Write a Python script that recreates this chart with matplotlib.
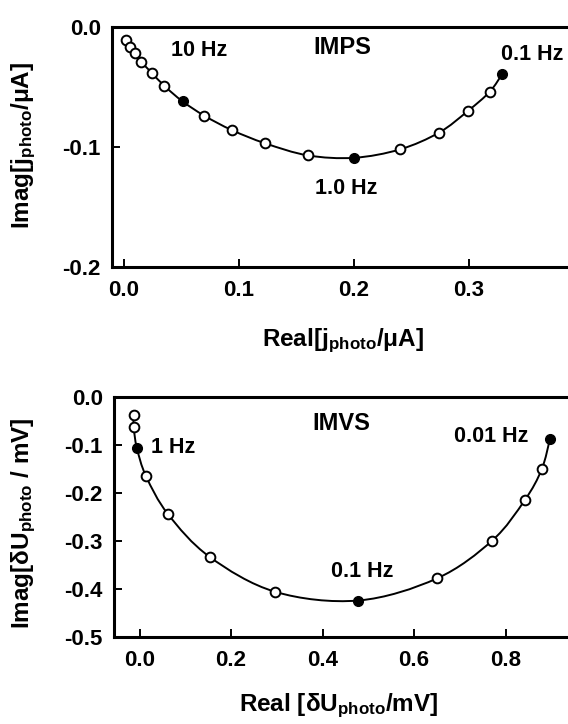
import matplotlib
matplotlib.use("Agg")
import matplotlib.pyplot as plt
from matplotlib.path import Path
from matplotlib.patches import PathPatch

plt.rcParams["font.family"] = ["Liberation Sans", "DejaVu Sans"]
plt.rcParams["font.weight"] = "bold"
plt.rcParams["mathtext.fontset"] = "custom"
plt.rcParams["mathtext.rm"] = "Liberation Sans:bold"
plt.rcParams["mathtext.it"] = "Liberation Sans:italic:bold"
plt.rcParams["mathtext.bf"] = "Liberation Sans:bold"

# ─── IMPS data ──────────────────────────────────────────────────────
imps_real = [0.0016, 0.0054, 0.0095, 0.015, 0.024, 0.035, 0.051, 0.070,
             0.094, 0.123, 0.160, 0.200, 0.240, 0.274, 0.299, 0.318, 0.329]
imps_imag = [-0.0106, -0.0167, -0.022, -0.029, -0.038, -0.049, -0.062, -0.074,
             -0.086, -0.097, -0.107, -0.109, -0.102, -0.088, -0.070, -0.054, -0.039]
imps_filled = [6, 11, 16]

# ─── IMVS data ──────────────────────────────────────────────────────
imvs_real = [-0.013, -0.013, -0.006, 0.014, 0.062, 0.153, 0.297, 0.478,
             0.650, 0.771, 0.842, 0.879, 0.897]
imvs_imag = [-0.037, -0.0625, -0.106, -0.165, -0.244, -0.333, -0.406, -0.424,
             -0.378, -0.299, -0.215, -0.151, -0.088]
imvs_filled = [2, 7, 12]

W, H = 568, 724
fig = plt.figure(figsize=(W / 100, H / 100), dpi=100)
fig.patch.set_facecolor("white")

TICK_FS = 16
HZ_FS = 15.5
TITLE_FS = 17
LABEL_FS = 17.5


def axes_px(left, top, right, bottom):
    return fig.add_axes([left / W, 1 - bottom / H, (right - left) / W, (bottom - top) / H])


def style(ax):
    for s in ax.spines.values():
        s.set_linewidth(2.2)
    ax.tick_params(direction="in", length=6, width=1.4, labelsize=TICK_FS,
                   top=False, right=False)
    ax.tick_params(axis="x", pad=9)
    ax.tick_params(axis="y", pad=8)


def smooth_path(xs, ys):
    # Catmull-Rom through the measured points, drawn as cubic Bezier pieces
    pts = list(zip(xs, ys))
    n = len(pts)
    verts = [pts[0]]
    codes = [Path.MOVETO]
    for i in range(n - 1):
        p0 = pts[max(i - 1, 0)]
        p1 = pts[i]
        p2 = pts[i + 1]
        p3 = pts[min(i + 2, n - 1)]
        c1 = (p1[0] + (p2[0] - p0[0]) / 6, p1[1] + (p2[1] - p0[1]) / 6)
        c2 = (p2[0] - (p3[0] - p1[0]) / 6, p2[1] - (p3[1] - p1[1]) / 6)
        verts += [c1, c2, p2]
        codes += [Path.CURVE4] * 3
    return Path(verts, codes)


def draw(ax, xs, ys, filled):
    ax.add_patch(PathPatch(smooth_path(xs, ys), fc="none", ec="black",
                           lw=1.4, zorder=2))
    opn = [i for i in range(len(xs)) if i not in filled]
    ax.plot([xs[i] for i in opn], [ys[i] for i in opn], "o", ms=7,
            mfc="white", mec="black", mew=1.4, ls="none", zorder=3)
    ax.plot([xs[i] for i in filled], [ys[i] for i in filled], "o", ms=7,
            mfc="black", mec="black", ls="none", zorder=3)


# ─── top: IMPS ──────────────────────────────────────────────────────
ax1 = axes_px(112, 27, 584, 267)
style(ax1)
draw(ax1, imps_real, imps_imag, imps_filled)
ax1.set_xlim(-0.0104, 0.4)
ax1.set_ylim(-0.2, 0.0)
ax1.set_xticks([0.0, 0.1, 0.2, 0.3])
ax1.set_yticks([0.0, -0.1, -0.2])
ax1.set_xticklabels(["0.0", "0.1", "0.2", "0.3"])
ax1.set_yticklabels(["0.0", "-0.1", "-0.2"])
ax1.text(0.065, -0.020, "10 Hz", ha="center", va="center", fontsize=HZ_FS)
ax1.text(0.1896, -0.0167, "IMPS", ha="center", va="center", fontsize=TITLE_FS)
ax1.text(0.355, -0.0233, "0.1 Hz", ha="center", va="center", fontsize=HZ_FS)
ax1.text(0.193, -0.135, "1.0 Hz", ha="center", va="center", fontsize=HZ_FS)
fig.text(343 / W, 1 - 341 / H, r"Real[j$_{\mathrm{photo}}$/μA]",
         ha="center", va="center", fontsize=LABEL_FS)
fig.text(24 / W, 1 - 145 / H, r"Imag[j$_{\mathrm{photo}}$/μA]",
         ha="center", va="center", fontsize=LABEL_FS, rotation=90)

# ─── bottom: IMVS ───────────────────────────────────────────────────
ax2 = axes_px(114, 397, 597, 637)
style(ax2)
draw(ax2, imvs_real, imvs_imag, imvs_filled)
ax2.set_xlim(-0.056, 1.0)
ax2.set_ylim(-0.5, 0.0)
ax2.set_xticks([0.0, 0.2, 0.4, 0.6, 0.8])
ax2.set_yticks([0.0, -0.1, -0.2, -0.3, -0.4, -0.5])
ax2.set_xticklabels(["0.0", "0.2", "0.4", "0.6", "0.8"])
ax2.set_yticklabels(["0.0", "-0.1", "-0.2", "-0.3", "-0.4", "-0.5"])
ax2.text(0.44, -0.0556, "IMVS", ha="center", va="center", fontsize=TITLE_FS)
ax2.text(0.024, -0.1056, "1 Hz", ha="left", va="center", fontsize=HZ_FS)
ax2.text(0.851, -0.083, "0.01 Hz", ha="right", va="center", fontsize=HZ_FS)
ax2.text(0.487, -0.363, "0.1 Hz", ha="center", va="center", fontsize=HZ_FS)
fig.text(339 / W, 1 - 706 / H, r"Real [δU$_{\mathrm{photo}}$/mV]",
         ha="center", va="center", fontsize=LABEL_FS)
fig.text(24 / W, 1 - 523 / H, r"Imag[δU$_{\mathrm{photo}}$ / mV]",
         ha="center", va="center", fontsize=LABEL_FS, rotation=90)

fig.savefig("out.png", dpi=100, facecolor="white")
